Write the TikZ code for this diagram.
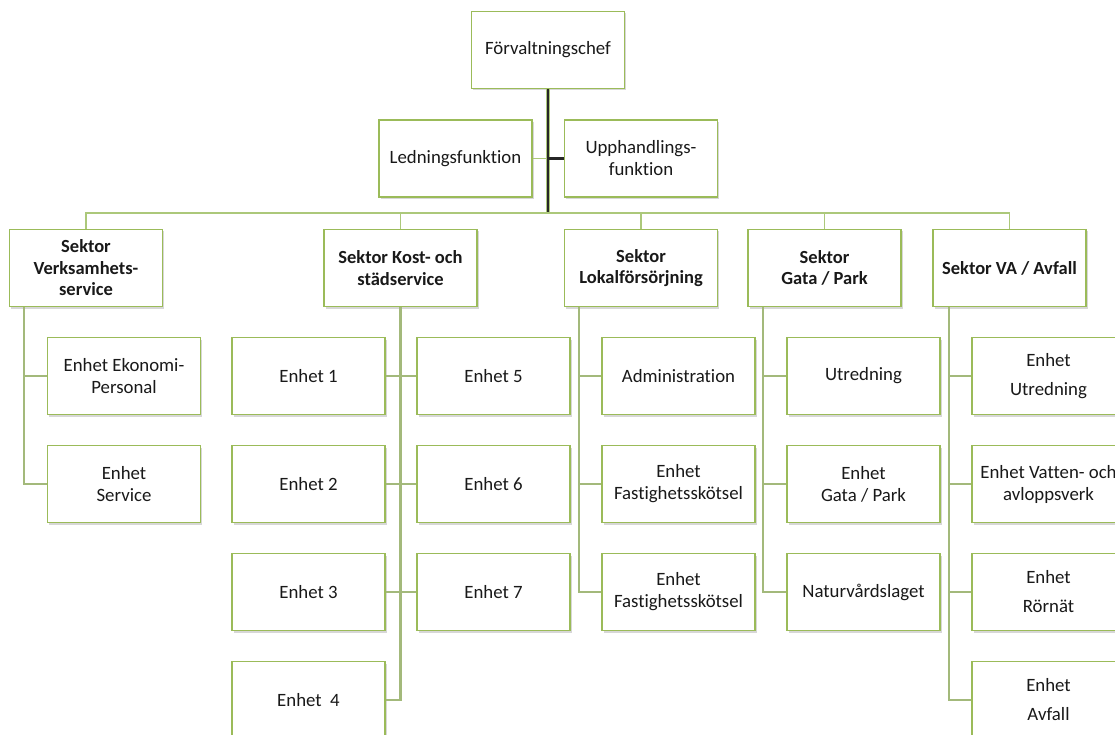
\documentclass[tikz,border=0pt]{standalone}
\usepackage{fontspec}
\setmainfont[Ligatures={NoCommon}]{Carlito}
\usetikzlibrary{positioning, shadows, calc}
\definecolor{boxgreen}{RGB}{155,187,89}
\definecolor{linkgreen}{RGB}{172,200,122}
\definecolor{txtdark}{RGB}{25,25,25}

\begin{document}
\begin{tikzpicture}[x=1pt, y=-1pt,
    unit/.style={rectangle, draw=boxgreen, line width=1.5pt, fill=white, text=txtdark, align=center, minimum width=153pt, minimum height=77pt, inner sep=2pt, font=\fontsize{18.8}{22}\selectfont, drop shadow={shadow xshift=1.5pt, shadow yshift=-2pt, opacity=0.35, fill=black!45}},
    sector/.style={unit, font=\fontsize{18.5}{21.5}\selectfont\bfseries},
    link/.style={draw=linkgreen, line width=1.8pt},
    trunk/.style={draw=linkgreen!80!gray, line width=2.4pt}
]
    \useasboundingbox (0,0) rectangle (1115,735);
    \clip (0,0) rectangle (1115,735);

    % Top: chef and staff functions
    \node (chef) [unit] at (548,50) {Förvaltningschef};
    \node (led) [unit] at (455.5,158.5) {Ledningsfunktion};
    \node (upp) [unit] at (641,158.5) {Upphandlings-\\funktion};

    % Sectors
    \node (verk) [sector] at (86,268) {Sektor\\Verksamhets-\\service};
    \node (kost) [sector] at (400.5,268) {Sektor Kost- och\\städservice};
    \node (lokal) [sector] at (641,268) {Sektor\\Lokalförsörjning};
    \node (gata) [sector] at (824.5,268) {Sektor\\Gata / Park};
    \node (va) [sector] at (1009.5,268) {Sektor VA / Avfall};

    % Units under Verksamhetsservice
    \node (ekon) [unit] at (124,376) {Enhet Ekonomi-\\Personal};
    \node (serv) [unit, below=29.5pt of ekon] {Enhet\\Service};

    % Units under Kost- och städservice
    \node (e1) [unit] at (308.5,376) {Enhet 1};
    \node (e2) [unit, below=29.5pt of e1] {Enhet 2};
    \node (e3) [unit, below=29.5pt of e2] {Enhet 3};
    \node (e4) [unit, below=29.5pt of e3] {Enhet\ \ 4};
    \node (e5) [unit] at (493.5,376) {Enhet 5};
    \node (e6) [unit, below=29.5pt of e5] {Enhet 6};
    \node (e7) [unit, below=29.5pt of e6] {Enhet 7};

    % Units under Lokalförsörjning
    \node (adm) [unit] at (678.5,376) {Administration};
    \node (fast1) [unit, below=29.5pt of adm] {Enhet\\Fastighetsskötsel};
    \node (fast2) [unit, below=29.5pt of fast1] {Enhet\\Fastighetsskötsel};

    % Units under Gata / Park
    \node (utr) [unit] at (863.5,376) {Utredning};
    \node (gpark) [unit, below=29.5pt of utr] {Enhet\\Gata / Park};
    \node (natur) [unit, below=29.5pt of gpark] {Naturvårdslaget};

    % Units under VA / Avfall
    \node (vautr) [unit] at (1048.5,376) {Enhet\\[7pt]Utredning};
    \node (vatten) [unit, below=29.5pt of vautr] {Enhet Vatten- och\\avloppsverk};
    \node (ror) [unit, below=29.5pt of vatten] {Enhet\\[7pt]Rörnät};
    \node (avfall) [unit, below=29.5pt of ror] {Enhet\\[7pt]Avfall};

    % Main trunk and bus
    \coordinate (bus) at (548,213);
    \draw [link] (led.east) -- (led.east -| chef.south);
    \draw [draw=linkgreen, line width=0.8pt, double=black!85, double distance=1.6pt] (chef.south) -- (bus);
    \draw [black!85, line width=2.6pt] (upp.west) -- (upp.west -| chef.south);
    \foreach \s in {verk, kost, lokal, gata, va}
        \draw [link] (bus) -| (\s.north);

    % Sector trunks to their units
    \foreach \u in {ekon, serv}
        \draw [trunk] ([xshift=15pt]verk.south west) |- (\u.west);
    \foreach \u in {e1, e2, e3, e4}
        \draw [trunk] (kost.south) |- (\u.east);
    \foreach \u in {e5, e6, e7}
        \draw [trunk] (kost.south) |- (\u.west);
    \foreach \u in {adm, fast1, fast2}
        \draw [trunk] ([xshift=15pt]lokal.south west) |- (\u.west);
    \foreach \u in {utr, gpark, natur}
        \draw [trunk] ([xshift=16pt]gata.south west) |- (\u.west);
    \foreach \u in {vautr, vatten, ror, avfall}
        \draw [trunk] ([xshift=17pt]va.south west) |- (\u.west);
\end{tikzpicture}
\end{document}
